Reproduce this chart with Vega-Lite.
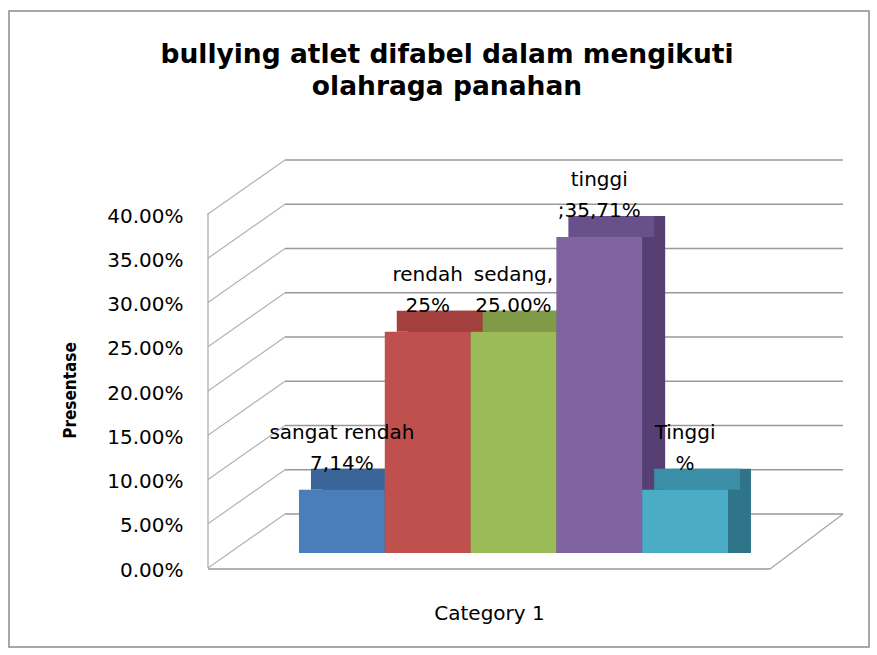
{
  "$schema": "https://vega.github.io/schema/vega-lite/v6.json",
  "width": 562,
  "height": 354,
  "autosize": {"type": "none"},
  "padding": {"left": 208, "top": 199, "right": 107, "bottom": 102},
  "background": "white",
  "config": {"view": {"stroke": null}, "font": "DejaVu Sans"},
  "title": {
    "text": ["bullying atlet difabel dalam mengikuti", "olahraga panahan"],
    "font": "DejaVu Sans",
    "fontSize": 26.5,
    "fontWeight": "bold",
    "color": "#000000",
    "anchor": "middle",
    "dx": -42,
    "lineHeight": 32,
    "baseline": "alphabetic",
    "offset": 0,
    "dy": 111
  },
  "datasets": {
    "scores": [
      {"level": "sangat rendah", "value": 0.0714, "label": "sangat rendah\n7,14%"},
      {"level": "rendah", "value": 0.25, "label": "rendah\n25%"},
      {"level": "sedang", "value": 0.25, "label": "sedang,\n25.00%"},
      {"level": "tinggi", "value": 0.3571, "label": "tinggi\n;35,71%"},
      {"level": "sangat tinggi", "value": 0.0714, "label": "Tinggi\n%"}
    ],
    "ticks": [
      {"v": 0}, {"v": 0.05}, {"v": 0.1}, {"v": 0.15}, {"v": 0.2},
      {"v": 0.25}, {"v": 0.3}, {"v": 0.35}, {"v": 0.4}
    ],
    "one": [{"k": 1}]
  },
  "resolve": {"scale": {"x": "independent", "y": "independent"}},
  "layer": [
    {
      "data": {"name": "one"},
      "mark": {"type": "rect", "fill": null, "stroke": "#8c8c8c", "strokeWidth": 1.5, "xOffset": -199, "x2Offset": 99, "yOffset": -188, "y2Offset": 94},
      "encoding": {
        "x": {"datum": 0, "type": "quantitative", "scale": {"domain": [0, 1]}, "axis": null},
        "x2": {"datum": 1},
        "y": {"datum": 0.4, "type": "quantitative", "scale": {"domain": [0, 0.4], "nice": false}, "axis": null},
        "y2": {"datum": 0}
      }
    },
    {
      "data": {"name": "ticks"},
      "mark": {"type": "rule", "color": "#999999", "strokeWidth": 1.5, "xOffset": 77, "x2Offset": 73, "yOffset": -39},
      "encoding": {
        "x": {"datum": 0, "type": "quantitative", "scale": {"domain": [0, 1]}, "axis": null},
        "x2": {"datum": 1},
        "y": {"field": "v", "type": "quantitative", "scale": {"domain": [0, 0.4], "nice": false}, "axis": null}
      }
    },
    {
      "data": {"name": "ticks"},
      "mark": {"type": "rule", "color": "#b3b3b3", "strokeWidth": 1.2, "x2Offset": 77, "yOffset": 15, "y2Offset": -39},
      "encoding": {
        "x": {"datum": 0, "type": "quantitative", "scale": {"domain": [0, 1]}, "axis": null},
        "x2": {"datum": 0},
        "y": {"field": "v", "type": "quantitative", "scale": {"domain": [0, 0.4], "nice": false}, "axis": null},
        "y2": {"field": "v"}
      }
    },
    {
      "data": {"name": "one"},
      "mark": {"type": "rule", "color": "#a6a6a6", "strokeWidth": 1.2, "yOffset": 15, "y2Offset": 14},
      "encoding": {
        "x": {"datum": 0, "type": "quantitative", "scale": {"domain": [0, 1]}, "axis": null},
        "y": {"datum": 0, "type": "quantitative", "scale": {"domain": [0, 0.4], "nice": false}, "axis": null},
        "y2": {"datum": 0.4}
      }
    },
    {
      "data": {"name": "one"},
      "mark": {"type": "rule", "color": "#999999", "strokeWidth": 1.4, "yOffset": 16},
      "encoding": {
        "x": {"datum": 0, "type": "quantitative", "scale": {"domain": [0, 1]}, "axis": null},
        "x2": {"datum": 1},
        "y": {"datum": 0, "type": "quantitative", "scale": {"domain": [0, 0.4], "nice": false}, "axis": null}
      }
    },
    {
      "data": {"name": "one"},
      "mark": {"type": "rule", "color": "#a6a6a6", "strokeWidth": 1.2, "x2Offset": 73, "yOffset": 16, "y2Offset": -39},
      "encoding": {
        "x": {"datum": 1, "type": "quantitative", "scale": {"domain": [0, 1]}, "axis": null},
        "x2": {"datum": 1},
        "y": {"datum": 0, "type": "quantitative", "scale": {"domain": [0, 0.4], "nice": false}, "axis": null},
        "y2": {"datum": 0}
      }
    },
    {
      "data": {"name": "scores"},
      "encoding": {
        "x": {
          "field": "level", "type": "nominal", "sort": null,
          "scale": {"paddingInner": 0, "paddingOuter": 0.775, "align": 0.684},
          "axis": {"labels": false, "ticks": false, "domain": false, "title": "Category 1", "titleFont": "DejaVu Sans", "titleFontSize": 20, "titleFontWeight": "normal", "titleColor": "#000000", "titleY": 60, "titleBaseline": "middle"}
        },
        "y": {
          "field": "value", "type": "quantitative", "stack": null,
          "scale": {"domain": [0, 0.4], "nice": false, "zero": true},
          "axis": {"values": [0, 0.05, 0.1, 0.15, 0.2, 0.25, 0.3, 0.35, 0.4], "format": ".2%", "grid": false, "ticks": false, "domain": false, "labelFont": "DejaVu Sans", "labelFontSize": 20, "labelColor": "#000000", "labelPadding": 25, "labelOffset": 17, "title": "Presentase", "titleFont": "DejaVu Sans Condensed", "titleFontSize": 17, "titleFontWeight": "bold", "titleColor": "#000000", "titleX": -138, "titleY": 191, "titleBaseline": "middle"}
        }
      },
      "resolve": {"scale": {"color": "independent"}},
      "layer": [
        {
          "mark": {"type": "bar", "xOffset": 23, "yOffset": -21, "y2Offset": -21},
          "encoding": {
            "color": {"field": "level", "type": "nominal", "sort": null, "legend": null,
              "scale": {"domain": ["sangat rendah", "rendah", "sedang", "tinggi", "sangat tinggi"], "range": ["#2f5480", "#8a3533", "#68803a", "#553f73", "#2f7489"]}}
          }
        },
        {
          "mark": {"type": "bar", "xOffset": 12, "yOffset": -21},
          "encoding": {
            "y2": {"field": "value"},
            "color": {"field": "level", "type": "nominal", "sort": null, "legend": null,
              "scale": {"domain": ["sangat rendah", "rendah", "sedang", "tinggi", "sangat tinggi"], "range": ["#3b6598", "#a3403d", "#7f9b48", "#68518b", "#3a8ea6"]}}
          }
        },
        {
          "mark": {"type": "bar"},
          "encoding": {
            "color": {"field": "level", "type": "nominal", "sort": null, "legend": null,
              "scale": {"domain": ["sangat rendah", "rendah", "sedang", "tinggi", "sangat tinggi"], "range": ["#4a7ebb", "#c0504d", "#9bbb59", "#8064a2", "#4bacc6"]}}
          }
        },
        {
          "mark": {"type": "text", "lineBreak": "\n", "lineHeight": 31, "dy": -51, "fontSize": 20, "font": "DejaVu Sans", "baseline": "alphabetic", "align": "center", "color": "#000000"},
          "encoding": {"text": {"field": "label"}}
        }
      ]
    }
  ]
}
